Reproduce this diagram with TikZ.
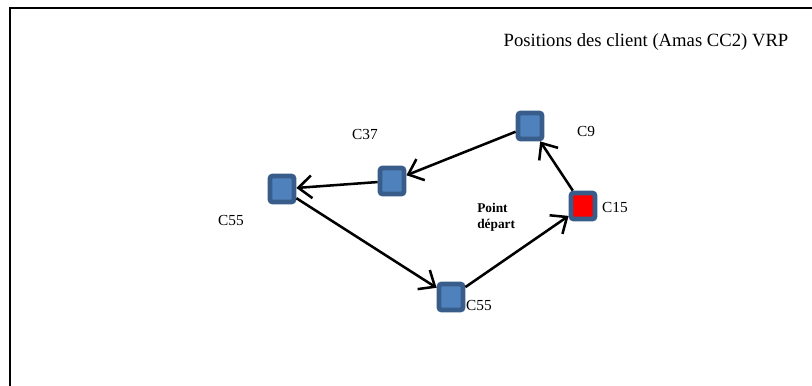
\documentclass[tikz,border=0pt]{standalone}
\usepackage{fontspec}
\setmainfont{Liberation Serif}
\usetikzlibrary{arrows.meta}
\definecolor{boxedge}{HTML}{385D8A}
\definecolor{boxfill}{HTML}{4F81BD}
\tikzset{
  client/.style={rectangle, draw=boxedge, fill=boxfill, line width=3.6pt,
    rounded corners=2pt, minimum width=18pt, minimum height=19.5pt, inner sep=0pt},
  depot/.style={client, fill=red},
  lbl/.style={font=\fontsize{11.5pt}{13pt}\selectfont, inner sep=0pt},
  route/.style={line width=1.9pt, -{Straight Barb[length=10pt,width=17pt]}},
}
\begin{document}
\begin{tikzpicture}[x=0.75pt,y=-0.75pt]
  \useasboundingbox (0,0) rectangle (812,385);
  \clip (0,0) rectangle (812,385);
  % frame
  \draw[line width=1.8pt] (10,400) -- (10,8) -- (830,8);

  % title
  \node[font=\fontsize{14pt}{16pt}\selectfont, inner sep=0pt] (title) at (646,42) {Positions des client (Amas CC2) VRP};

  % clients
  \node[client] (c9)  at (530,126) {};
  \node[depot]  (c15) at (583,206) {};
  \node[client] (c37) at (392,181) {};
  \node[client] (c55a) at (282,189) {};
  \node[client] (c55b) at (451,297) {};

  % labels
  \node[lbl] (l9)   at (586,131) {C9};
  \node[lbl] (l15)  at (615,207) {C15};
  \node[lbl] (l37)  at (365,134) {C37};
  \node[lbl] (l55a) at (231,220) {C55};
  \node[lbl] (l55b) at (479,305) {C55};
  \node[font=\bfseries\fontsize{10pt}{12pt}\selectfont, align=left, inner sep=0pt, anchor=west] (start) at (477,217) {Point\\départ};

  % route
  \draw[route] (c15) -- (c9);
  \draw[route] (c9) -- (c37);
  \draw[route] (c37) -- (c55a);
  \draw[route] (c55a) -- (c55b);
  \draw[route] (c55b) -- (c15);
\end{tikzpicture}
\end{document}
